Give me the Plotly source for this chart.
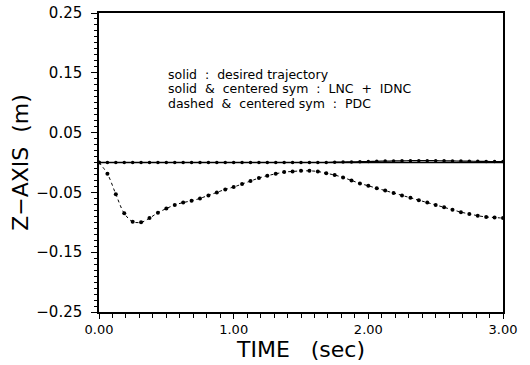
import plotly.graph_objects as go

# marker times (s)
time_s = [0, 0.0625, 0.125, 0.1875, 0.25, 0.3125, 0.375, 0.4375, 0.5, 0.5625,
          0.625, 0.6875, 0.75, 0.8125, 0.875, 0.9375, 1.0, 1.0625, 1.125, 1.1875,
          1.25, 1.3125, 1.375, 1.4375, 1.5, 1.5625, 1.625, 1.6875, 1.75, 1.8125,
          1.875, 1.9375, 2.0, 2.0625, 2.125, 2.1875, 2.25, 2.3125, 2.375, 2.4375,
          2.5, 2.5625, 2.625, 2.6875, 2.75, 2.8125, 2.875, 2.9375, 3.0]

desired = [0.0] * len(time_s)

lnc_idnc = [0, 0, 0, 0, 0, 0, 0, 0, 0, 0,
            0, 0, 0, 0, 0, 0, 0, 0, 0, 0,
            0, 0, 0, 0, 0, 0, 0, 0, 0.0005, 0.0008,
            0.001, 0.0013, 0.0016, 0.002, 0.0023, 0.0026, 0.0028, 0.003, 0.003, 0.003,
            0.003, 0.0028, 0.0026, 0.0024, 0.0022, 0.002, 0.0018, 0.0016, 0.0015]

pdc = [0, -0.019, -0.053, -0.085, -0.099, -0.100, -0.093, -0.084, -0.077, -0.071,
       -0.067, -0.064, -0.060, -0.055, -0.050, -0.045, -0.041, -0.036, -0.031, -0.026,
       -0.022, -0.019, -0.016, -0.015, -0.014, -0.014, -0.015, -0.018, -0.021, -0.025,
       -0.030, -0.035, -0.039, -0.043, -0.047, -0.051, -0.055, -0.059, -0.063, -0.067,
       -0.071, -0.075, -0.079, -0.083, -0.086, -0.089, -0.091, -0.092, -0.093]

x_tickvals = [0, 1, 2, 3]
x_ticktext = ["0.00", "1.00", "2.00", "3.00"]
y_tickvals = [0.25, 0.15, 0.05, -0.05, -0.15, -0.25]
y_ticktext = ["0.25", "0.15", "0.05", "\u22120.05", "\u22120.15", "\u22120.25"]

legend_lines = ["solid  :  desired trajectory",
                "solid  &  centered sym  :  LNC  +  IDNC",
                "dashed  &  centered sym  :  PDC"]
legend_y = [0.147, 0.123, 0.099]

fig = go.Figure()
fig.add_trace(go.Scatter(x=time_s, y=desired, mode="lines",
                         line=dict(color="black", width=1.5), showlegend=False))
fig.add_trace(go.Scatter(x=time_s, y=lnc_idnc, mode="lines+markers",
                         line=dict(color="black", width=1.2, shape="spline"),
                         marker=dict(color="black", size=3.5), showlegend=False))
fig.add_trace(go.Scatter(x=time_s, y=pdc, mode="lines+markers",
                         line=dict(color="black", width=1, dash="3px,3px", shape="spline"),
                         marker=dict(color="black", size=4), showlegend=False))

for txt, yy in zip(legend_lines, legend_y):
    fig.add_annotation(x=0.5, y=yy, xref="x", yref="y", xanchor="left", yanchor="middle",
                       text=txt, showarrow=False, align="left",
                       font=dict(family="DejaVu Sans", size=12.5, color="black"))

font = dict(family="DejaVu Sans", color="black")
fig.update_layout(
    width=530, height=365,
    margin=dict(l=99, r=27, t=13, b=53),
    paper_bgcolor="white", plot_bgcolor="white",
    font=font,
    xaxis=dict(range=[0, 3], tickvals=x_tickvals, ticktext=x_ticktext,
               showgrid=False, zeroline=False, showline=True, linecolor="black",
               linewidth=1.5, mirror=True, ticks="outside", ticklen=5,
               tickcolor="black", tickfont=dict(size=13), automargin=False,
               minor=dict(dtick=0.1, ticks="outside", ticklen=4, tickcolor="black"),
               title=dict(text="TIME   (sec)", font=dict(size=22), standoff=0)),
    yaxis=dict(range=[-0.25, 0.25], tickvals=y_tickvals, ticktext=y_ticktext,
               showgrid=False, zeroline=False, showline=True, linecolor="black",
               linewidth=1.5, mirror=True, ticks="outside", ticklen=6,
               tickcolor="black", tickfont=dict(size=15), automargin=False,
               ticklabelstandoff=6,
               minor=dict(tick0=0.25, dtick=0.01, ticks="outside", ticklen=3, tickcolor="black"),
               title=dict(text="Z\u2212AXIS  (m)", font=dict(size=22), standoff=2)),
)

fig.write_html("out.html", config={"displayModeBar": False},
               post_script="document.body.style.margin='0px';")
